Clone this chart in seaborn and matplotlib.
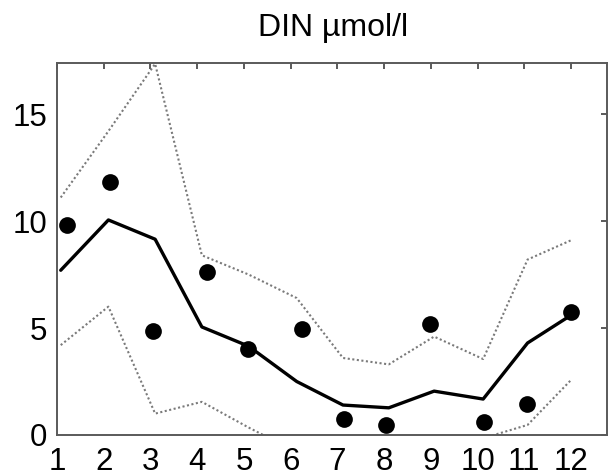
import matplotlib
matplotlib.use("Agg")
import matplotlib.pyplot as plt
import seaborn as sns
import pandas as pd

# Data
line_x = [1.08, 2.10, 3.10, 4.10, 5.10, 6.13, 7.12, 8.10, 9.07, 10.12, 11.07, 12.00]
mean_y = [7.7, 10.05, 9.15, 5.05, 4.15, 2.5, 1.4, 1.27, 2.05, 1.68, 4.3, 5.6]
upper_y = [11.1, 14.2, 17.35, 8.4, 7.5, 6.4, 3.6, 3.3, 4.6, 3.55, 8.2, 9.1]
lower_y = [4.2, 6.0, 1.0, 1.55, 0.35, -0.8, -1.5, -1.5, -1.0, -0.15, 0.47, 2.57]

obs_x = [1.21, 2.13, 3.06, 4.20, 5.09, 6.24, 7.14, 8.03, 8.98, 10.14, 11.05, 11.99]
obs_y = [9.81, 11.84, 4.86, 7.63, 4.02, 4.94, 0.75, 0.47, 5.19, 0.59, 1.45, 5.76]

x_ticks = [1, 2, 3, 4, 5, 6, 7, 8, 9, 10, 11, 12]
y_ticks = [0, 5, 10, 15]
title = "DIN µmol/l"

sns.set_style("white")
plt.rcParams['font.family'] = ['Liberation Sans', 'DejaVu Sans']

fig = plt.figure(figsize=(6.08, 4.76), dpi=100)
ax = fig.add_axes([57/608, 1 - 435/476, (607 - 57)/608, (435 - 62.7)/476])

df_lines = pd.DataFrame({"x": line_x, "mean": mean_y, "upper": upper_y, "lower": lower_y})
df_obs = pd.DataFrame({"x": obs_x, "y": obs_y})

sns.lineplot(data=df_lines, x="x", y="upper", ax=ax, color="#7a7a7a",
             linestyle=(0, (1, 1.2)), linewidth=1.5, sort=False)
sns.lineplot(data=df_lines, x="x", y="lower", ax=ax, color="#7a7a7a",
             linestyle=(0, (1, 1.2)), linewidth=1.5, sort=False)
sns.lineplot(data=df_lines, x="x", y="mean", ax=ax, color="black",
             linewidth=2.4, sort=False)
sns.scatterplot(data=df_obs, x="x", y="y", ax=ax, color="black", s=145,
                edgecolor="black", linewidth=0, zorder=5)

ax.set_xlim(1, 12.77)
ax.set_ylim(0, 17.4)
ax.set_xticks(x_ticks)
ax.set_xticklabels([str(t) for t in x_ticks])
ax.set_yticks(y_ticks)
ax.set_yticklabels([str(t) for t in y_ticks])
ax.set_xlabel("")
ax.set_ylabel("")

for s in ax.spines.values():
    s.set_visible(True)
    s.set_color("#5a5a5a")
    s.set_linewidth(1.4)

ax.tick_params(axis="both", which="major", direction="in", length=4, width=1.4,
               color="#5a5a5a", labelsize=22.5, labelcolor="black",
               top=True, right=True)
ax.tick_params(axis="x", pad=9)
ax.tick_params(axis="y", pad=7)

fig.text(333/608, 1 - 36/476, title, ha="center", va="baseline", fontsize=23,
         color="black")

fig.savefig("out.png", dpi=100)
